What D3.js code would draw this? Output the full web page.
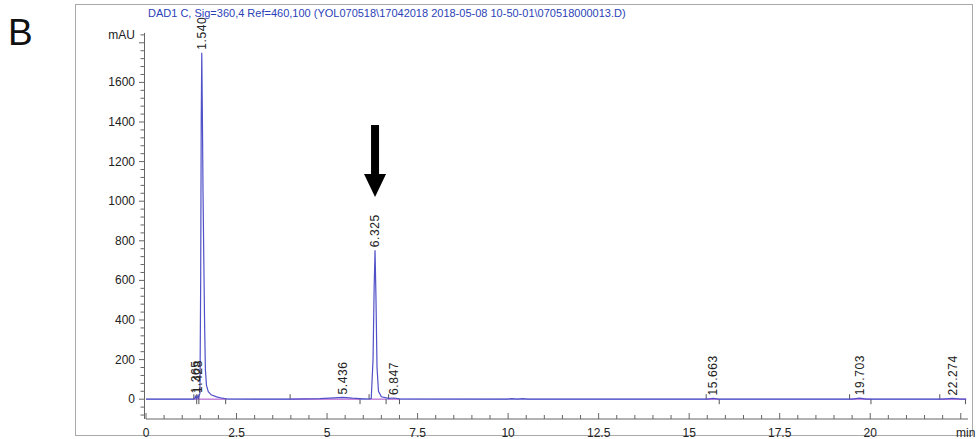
<!DOCTYPE html>
<html>
<head>
<meta charset="utf-8">
<script src="https://cdn.jsdelivr.net/npm/d3@7"></script>
<style>
  body { margin: 0; background: #fff; }
  text { font-family: Arial, "Liberation Sans", sans-serif; }
</style>
</head>
<body>
<div class="canvas"></div>
<script>
// chromatogram trace (min, mAU)
const times  = [0, 1.30, 1.34, 1.365, 1.39, 1.41, 1.428, 1.45, 1.49, 1.51, 1.525, 1.540, 1.555, 1.575, 1.60, 1.62, 1.64, 1.67, 1.72, 1.80, 1.95, 2.10, 2.25,
                4.0, 4.8, 5.2, 5.436, 5.7, 6.0, 6.15, 6.22, 6.27, 6.30, 6.325, 6.35, 6.38, 6.42, 6.50, 6.70, 6.847, 7.0,
                9.95, 10.1, 10.25, 10.4, 10.55, 15.5, 15.663, 15.8, 19.5, 19.703, 19.9, 22.0, 22.274, 22.5, 22.65];
const signal = [0, 0, 2, 14, 3, 5, 16, 6, 30, 600, 1400, 1750, 1480, 1040, 650, 360, 150, 70, 38, 22, 12, 5, 1,
                0, 3, 7, 9, 5, 2, 1, 3, 200, 560, 752, 520, 160, 40, 12, 4, 6, 2,
                0, 3, 0, 3, 0, 0, 4, 0, 0, 5, 0, 0, 4, 0, 0];

// integrated peaks
const peakTimes   = [1.365, 1.428, 1.540, 5.436, 6.325, 6.847, 15.663, 19.703, 22.274];
const peakHeights = [14, 16, 1750, 9, 752, 6, 4, 5, 4];
const peakLabels  = ['1.365', '1.428', '1.540', '5.436', '6.325', '6.847', '15.663', '19.703', '22.274'];
const baseStart   = [1.32, 1.40, 1.46, 3.98, 6.16, 6.70, 15.47, 19.43, 21.92];
const baseEnd     = [1.40, 1.46, 2.20, 5.91, 6.63, 7.00, 15.83, 20.02, 22.63];

const xTickLabels = ['0', '2.5', '5', '7.5', '10', '12.5', '15', '17.5', '20'];
const yTickLabels = ['0', '200', '400', '600', '800', '1000', '1200', '1400', '1600'];

const title = 'DAD1 C, Sig=360,4 Ref=460,100 (YOL070518\\17042018 2018-05-08 10-50-01\\070518000013.D)';

const canvas = d3.select('.canvas');
const svg = canvas.append('svg')
  .attr('width', 976)
  .attr('height', 439);

// frame around the plot
svg.append('rect')
  .attr('x', 75.5).attr('y', 4.5)
  .attr('width', 897).attr('height', 431)
  .attr('fill', 'none')
  .attr('stroke', '#aaa');

svg.append('text')
  .attr('x', 8).attr('y', 45)
  .attr('font-size', 37)
  .attr('fill', '#111')
  .text('B');

svg.append('text')
  .attr('x', 148).attr('y', 17)
  .attr('font-size', 11)
  .attr('fill', '#2b3fb8')
  .text(title);

const x = d3.scaleLinear().domain([0, 22.7]).range([146, 968]);
const y = d3.scaleLinear().domain([-100, 1850]).range([419, 32.9]);

// x axis: ticks point up into the plot
const xAxis = svg.append('g');
xAxis.append('line')
  .attr('x1', x(0)).attr('x2', x(22.7))
  .attr('y1', y(-100)).attr('y2', y(-100))
  .attr('stroke', '#666');
xAxis.selectAll('.xt')
  .data(d3.range(0, 22.51, 0.5))
  .join('line')
  .attr('x1', d => x(d)).attr('x2', d => x(d))
  .attr('y1', y(-100))
  .attr('y2', d => y(-100) - (d % 2.5 === 0 ? 6 : 4))
  .attr('stroke', '#666');
xAxis.selectAll('.xl')
  .data(xTickLabels)
  .join('text')
  .attr('x', d => x(+d)).attr('y', 437)
  .attr('text-anchor', 'middle')
  .attr('font-size', 12)
  .attr('fill', '#222')
  .text(d => d);
xAxis.append('text')
  .attr('x', x(22.5) + 5).attr('y', 437)
  .attr('text-anchor', 'middle')
  .attr('font-size', 12)
  .attr('fill', '#222')
  .text('min');

// y axis: ticks point left
const yAxis = svg.append('g');
yAxis.append('line')
  .attr('x1', 144.5).attr('x2', 144.5)
  .attr('y1', y(-100)).attr('y2', y(1850))
  .attr('stroke', '#666');
yAxis.selectAll('.yt')
  .data(d3.range(-80, 1841, 40))
  .join('line')
  .attr('x1', 144.5).attr('x2', d => (d % 200 === 0 ? 139 : 140.5))
  .attr('y1', d => y(d)).attr('y2', d => y(d))
  .attr('stroke', '#666');
yAxis.selectAll('.yl')
  .data(yTickLabels)
  .join('text')
  .attr('x', 135).attr('y', d => y(+d) + 4)
  .attr('text-anchor', 'end')
  .attr('font-size', 12)
  .attr('fill', '#222')
  .text(d => d);
yAxis.append('text')
  .attr('x', 135).attr('y', y(1840) + 4)
  .attr('text-anchor', 'end')
  .attr('font-size', 12)
  .attr('fill', '#222')
  .text('mAU');

// baseline of the signal
svg.append('line')
  .attr('x1', x(0)).attr('x2', x(22.65))
  .attr('y1', y(0)).attr('y2', y(0))
  .attr('stroke', '#8a8ad8');

// integration baselines (pink) with start/end markers
const base = svg.append('g');
base.selectAll('.bl')
  .data(baseStart)
  .join('line')
  .attr('x1', d => x(d)).attr('x2', (d, i) => x(baseEnd[i]))
  .attr('y1', y(0)).attr('y2', y(0))
  .attr('stroke', '#d77ad7');
base.selectAll('.bs')
  .data(baseStart)
  .join('line')
  .attr('x1', d => x(d)).attr('x2', d => x(d))
  .attr('y1', y(0)).attr('y2', y(0) - 5)
  .attr('stroke', '#555');
base.selectAll('.be')
  .data(baseEnd)
  .join('line')
  .attr('x1', d => x(d)).attr('x2', d => x(d))
  .attr('y1', y(0)).attr('y2', y(0) + 5)
  .attr('stroke', '#555');

// signal trace
const line = d3.line()
  .x((d, i) => x(times[i]))
  .y(d => y(d));
svg.append('path')
  .datum(signal)
  .attr('d', line)
  .attr('fill', 'none')
  .attr('stroke', '#5050c8')
  .attr('stroke-width', 1.2);

// retention-time labels, rotated
svg.selectAll('.pl')
  .data(peakLabels)
  .join('text')
  .attr('transform', (d, i) => `translate(${x(peakTimes[i]) + 1},${y(peakHeights[i]) - 3}) rotate(-90)`)
  .attr('dominant-baseline', 'middle')
  .attr('font-size', 12)
  .attr('letter-spacing', 0.6)
  .attr('fill', '#222')
  .text(d => d);

// arrow pointing at the 6.325 peak
const ax = x(6.325);
svg.append('rect')
  .attr('x', ax - 4).attr('y', 125)
  .attr('width', 8).attr('height', 51)
  .attr('fill', '#000');
svg.append('path')
  .attr('d', `M${ax - 11},174 L${ax + 11},174 L${ax},197 Z`)
  .attr('fill', '#000');
</script>
</body>
</html>
